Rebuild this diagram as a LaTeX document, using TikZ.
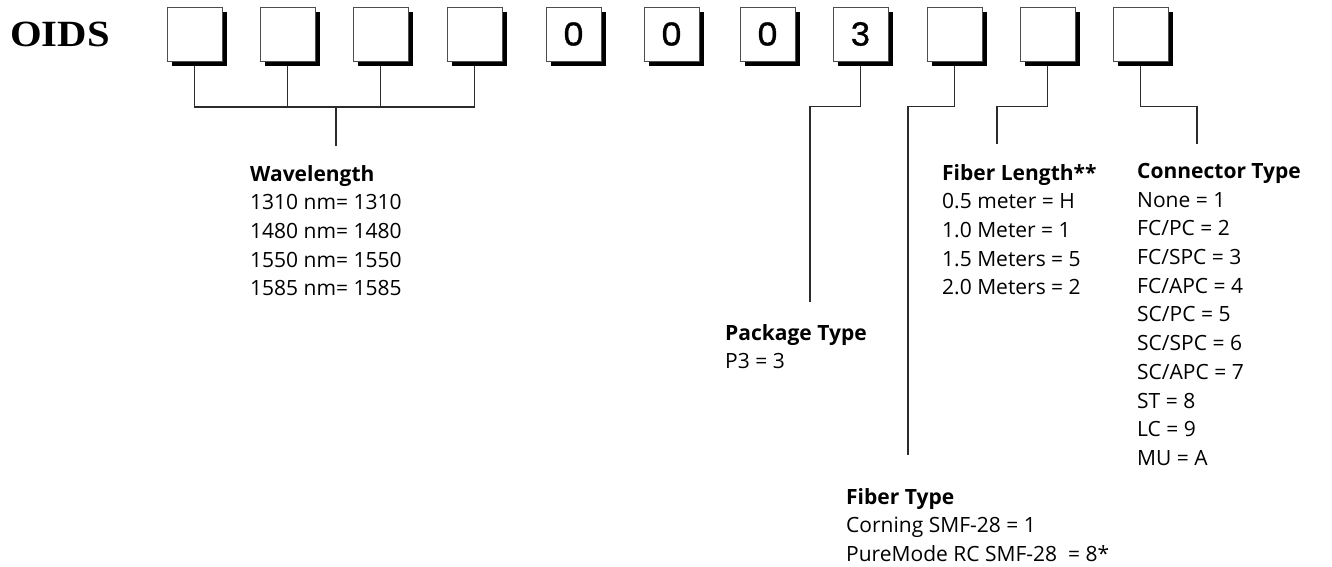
\documentclass[tikz,border=0pt]{standalone}
\usepackage{fontspec}
\setmainfont{Open Sans}
\newfontfamily\titlefont[FakeStretch=1.1]{Liberation Serif}
\newfontfamily\digitfont[FakeStretch=1.05, FakeBold=1.2]{Poppins}
\definecolor{boxEdge}{HTML}{4D4D4D}
\definecolor{linkGray}{HTML}{2B2B2B}

\begin{document}
\begin{tikzpicture}[x=1pt, y=-1pt,
    digitBox/.style={draw=boxEdge, line width=0.9pt, rectangle, fill=white, minimum width=55pt, minimum height=54pt, inner sep=0pt, font=\digitfont\fontsize{32}{32}\selectfont, preaction={fill=black, transform canvas={shift={(5pt,-5pt)}}}},
    fieldList/.style={anchor=north west, align=left, inner sep=0pt, font=\fontsize{21}{28.7}\selectfont},
    link/.style={draw=linkGray, line width=1.1pt},
]
\useasboundingbox (0,0) rectangle (1332,567);
\node[anchor=base west, inner sep=0pt, font=\titlefont\bfseries\fontsize{37}{37}\selectfont] (oids) at (10,47) {OIDS};
% code boxes
\node[digitBox] (b1) at (194.5,34) {};
\node[digitBox] (b2) at (287.5,34) {};
\node[digitBox] (b3) at (380.5,34) {};
\node[digitBox] (b4) at (474.5,34) {};
\node[digitBox] (b5) at (573.5,34) {0};
\node[digitBox] (b6) at (671.5,34) {0};
\node[digitBox] (b7) at (767.5,34) {0};
\node[digitBox] (b8) at (860.5,34) {3};
\node[digitBox] (b9) at (954.5,34) {};
\node[digitBox] (b10) at (1047.5,34) {};
\node[digitBox] (b11) at (1140.5,34) {};
% connectors
\coordinate (wlFork) at (336,107);
\coordinate (wlEnd) at (336,146);
\coordinate (pkgEnd) at (810,302);
\coordinate (ftEnd) at (908,455);
\coordinate (flEnd) at (997,144);
\coordinate (ctEnd) at (1197,144);
\draw[link] ([yshift=-5pt]b1.south) |- (wlFork) -| ([yshift=-5pt]b4.south);
\draw[link] ([yshift=-5pt]b2.south) -- (b2.south |- wlFork);
\draw[link] ([yshift=-5pt]b3.south) -- (b3.south |- wlFork);
\draw[link] (wlFork) -- (wlEnd);
\draw[link] ([yshift=-5pt]b8.south) -- ++(0,40) -| (pkgEnd);
\draw[link] ([yshift=-5pt]b9.south) -- ++(0,40) -| (ftEnd);
\draw[link] ([yshift=-5pt]b10.south) -- ++(0,40) -| (flEnd);
\draw[link] ([yshift=-5pt]b11.south) -- ++(0,40) -| (ctEnd);
% field descriptions
\node[fieldList] (wave) at (250,165) {\textbf{Wavelength}\\
    1310 nm= 1310\\
    1480 nm= 1480\\
    1550 nm= 1550\\
    1585 nm= 1585};
\node[fieldList] (pkg) at (725,324) {\textbf{Package Type}\\
    P3 = 3};
\node[fieldList] (flen) at (942,164) {\textbf{Fiber Length**}\\
    0.5 meter = H\\
    1.0 Meter = 1\\
    1.5 Meters = 5\\
    2.0 Meters = 2};
\node[fieldList] (conn) at (1137,163) {\textbf{Connector Type}\\
    None = 1\\
    FC/PC = 2\\
    FC/SPC = 3\\
    FC/APC = 4\\
    SC/PC = 5\\
    SC/SPC = 6\\
    SC/APC = 7\\
    ST = 8\\
    LC = 9\\
    MU = A};
\node[fieldList] (ftype) at (846,488) {\textbf{Fiber Type}\\
    Corning SMF-28 = 1\\
    PureMode RC SMF-28 \ = 8*};
\end{tikzpicture}
\end{document}
